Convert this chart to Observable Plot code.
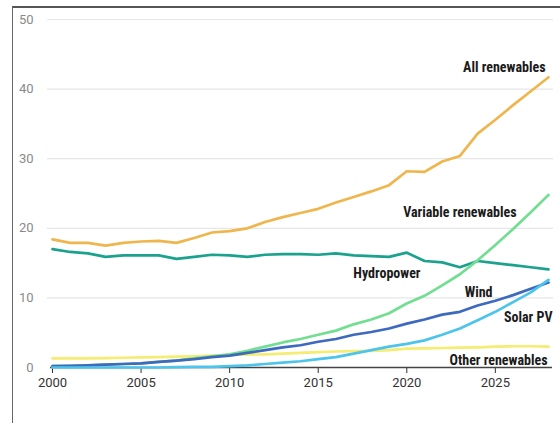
<!DOCTYPE html>
<html>
<head>
<meta charset="utf-8">
<script src="https://cdn.jsdelivr.net/npm/d3@7"></script>
<script src="https://cdn.jsdelivr.net/npm/@observablehq/plot@0.6"></script>
<style>
  html, body { margin: 0; padding: 0; background: #fff; }
  #frame { position: absolute; left: 12px; top: 6px; width: 548px; height: 417px;
           border-left: 1.5px solid #666; border-top: 2px solid #555; }
  #chart { position: absolute; left: 0; top: 0; }
</style>
</head>
<body>
<div id="frame"></div>
<div id="chart"></div>
<script>
const years = d3.range(2000, 2029);
const allRenewables = [18.4, 17.9, 17.9, 17.5, 17.9, 18.1, 18.2, 17.9, 18.6, 19.4, 19.6, 20.0, 20.9, 21.6, 22.2, 22.8, 23.7, 24.5, 25.3, 26.2, 28.2, 28.1, 29.6, 30.4, 33.6, 35.6, 37.7, 39.7, 41.7];
const hydropower = [17.0, 16.6, 16.4, 15.9, 16.1, 16.1, 16.1, 15.6, 15.9, 16.2, 16.1, 15.9, 16.2, 16.3, 16.3, 16.2, 16.4, 16.1, 16.0, 15.9, 16.5, 15.3, 15.1, 14.4, 15.3, 15.0, 14.7, 14.4, 14.1];
const variableRenewables = [0.2, 0.25, 0.3, 0.4, 0.5, 0.6, 0.8, 1.0, 1.3, 1.6, 1.9, 2.4, 3.0, 3.6, 4.1, 4.7, 5.3, 6.2, 6.9, 7.8, 9.2, 10.3, 11.8, 13.4, 15.4, 17.6, 19.9, 22.3, 24.8];
const wind = [0.2, 0.25, 0.3, 0.4, 0.5, 0.6, 0.8, 1.0, 1.2, 1.5, 1.7, 2.1, 2.5, 2.9, 3.2, 3.7, 4.1, 4.7, 5.1, 5.6, 6.3, 6.9, 7.6, 8.0, 8.9, 9.6, 10.4, 11.3, 12.2];
const solarPV = [0.0, 0.0, 0.0, 0.0, 0.0, 0.0, 0.0, 0.05, 0.1, 0.1, 0.2, 0.3, 0.5, 0.7, 0.9, 1.2, 1.5, 2.0, 2.5, 3.0, 3.4, 3.9, 4.7, 5.6, 6.8, 8.0, 9.4, 10.8, 12.6];
const otherRenewables = [1.3, 1.3, 1.3, 1.35, 1.4, 1.45, 1.5, 1.55, 1.6, 1.7, 1.8, 1.85, 1.9, 2.0, 2.1, 2.2, 2.3, 2.35, 2.4, 2.5, 2.7, 2.75, 2.8, 2.85, 2.9, 3.0, 3.05, 3.05, 3.0];

const seriesNames = ["Other renewables", "Hydropower", "All renewables", "Variable renewables", "Wind", "Solar PV"];
const seriesValues = [otherRenewables, hydropower, allRenewables, variableRenewables, wind, solarPV];
const seriesColors = ["#F5EC72", "#1BA28E", "#F0B64E", "#72DE92", "#3D69BE", "#4CC4EC"];
const yTicks = [0, 10, 20, 30, 40, 50];
const xTicks = [2000, 2005, 2010, 2015, 2020, 2025];

const rows = seriesNames.flatMap((name, i) =>
  years.map((year, j) => ({series: name, year, value: seriesValues[i][j]})));
const lastPoints = seriesNames.map((name, i) =>
  ({series: name, year: years[years.length - 1], value: seriesValues[i][years.length - 1]}));

// label offsets (px) relative to each series' last point
const labelOffsets = {
  "All renewables": [-3, -10],
  "Variable renewables": [-32, 18],
  "Hydropower": [-128, 4],
  "Wind": [-56, 10],
  "Solar PV": [4, 38],
  "Other renewables": [-1, 14]
};

const plot = Plot.plot({
  width: 560,
  height: 423,
  marginLeft: 52,
  marginRight: 12,
  marginTop: 19,
  marginBottom: 56,
  style: {fontFamily: "Roboto, 'Liberation Sans', sans-serif", background: "transparent", overflow: "visible"},
  x: {domain: [2000, 2028]},
  y: {domain: [0, 50]},
  color: {domain: seriesNames, range: seriesColors},
  marks: [
    Plot.ruleY(yTicks.filter(d => d > 0), {stroke: "#e6e6e6", strokeWidth: 1.2, insetLeft: -5, insetRight: -5}),
    Plot.axisY({ticks: yTicks, tickSize: 0, tickPadding: 19, fontSize: 13, fill: "#8a8a8a", label: null}),
    Plot.axisX({ticks: xTicks, tickFormat: d => String(d), tickSize: 6, tickPadding: 4, fontSize: 13, fill: "#333", stroke: "#333", label: null,
      fontFamily: "'Liberation Sans Narrow', Roboto, sans-serif"}),
    Plot.ruleY([0], {stroke: "#444", strokeWidth: 1.5, insetLeft: -2, insetRight: -4}),
    Plot.line(rows, {x: "year", y: "value", z: "series", stroke: "series", strokeWidth: 2.7, curve: "linear"}),
    ...lastPoints.map(p => Plot.text([p], {
      x: "year", y: "value", text: "series",
      textAnchor: "end", dx: labelOffsets[p.series][0], dy: labelOffsets[p.series][1],
      fontSize: 14, fontWeight: "bold", fill: "#1a1a1a",
      fontFamily: "'Liberation Sans Narrow', 'Roboto Condensed', Roboto, sans-serif"
    }))
  ]
});
document.getElementById("chart").appendChild(plot);
</script>
</body>
</html>
